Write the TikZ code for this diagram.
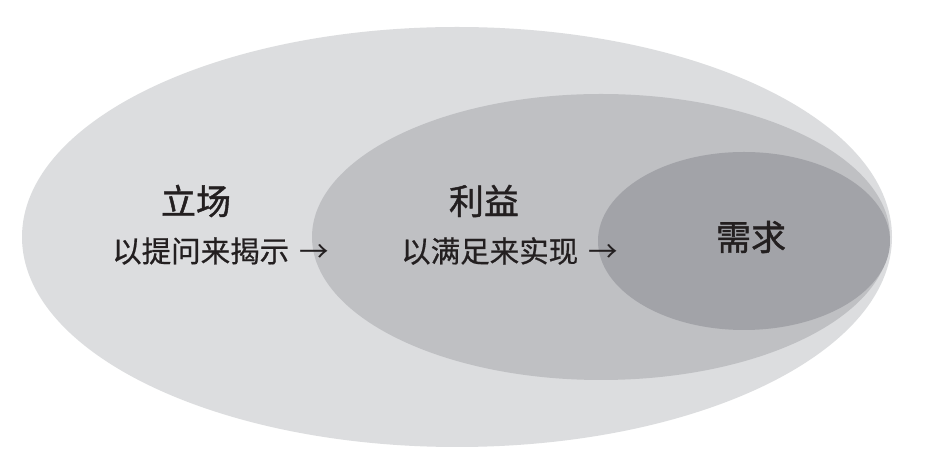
\documentclass[tikz,border=0pt]{standalone}
\usepackage{fontspec}
\newfontfamily\cjk{Noto Sans CJK SC}
\newfontfamily\cjkb[FakeBold=1.2]{Noto Sans CJK SC}
\newfontfamily\cjkm[FakeBold=0.6]{Noto Sans CJK SC}
\definecolor{outerfill}{HTML}{DCDDDF}
\definecolor{midfill}{HTML}{BFC0C3}
\definecolor{innerfill}{HTML}{A2A3A8}
\definecolor{txt}{HTML}{231F20}
\tikzset{
  title/.style={inner sep=0pt, text=txt, font=\cjkb\fontsize{35}{35}\selectfont},
  subtitle/.style={inner sep=0pt, text=txt, anchor=west, font=\cjkm\fontsize{29.5}{29.5}\selectfont},
}
\begin{document}
\begin{tikzpicture}[x=1pt,y=1pt]
\useasboundingbox (0,0) rectangle (927,476);
\fill[white] (0,0) rectangle (927,476);
\fill[outerfill] (457,239) ellipse [x radius=435, y radius=210];
\fill[midfill] (601,239) ellipse [x radius=289, y radius=143];
\fill[innerfill] (744,235) ellipse [x radius=146, y radius=89];
\node[title] (pos) at (196,275) {立场};
\node[subtitle] (posq) at (112,225) {以提问来揭示\hspace{10pt}{\cjk →}};
\node[title] (int) at (484,275) {利益};
\node[subtitle] (intq) at (401,225) {以满足来实现\hspace{10pt}{\cjk →}};
\node[title] (need) at (751,239) {需求};
\end{tikzpicture}
\end{document}
